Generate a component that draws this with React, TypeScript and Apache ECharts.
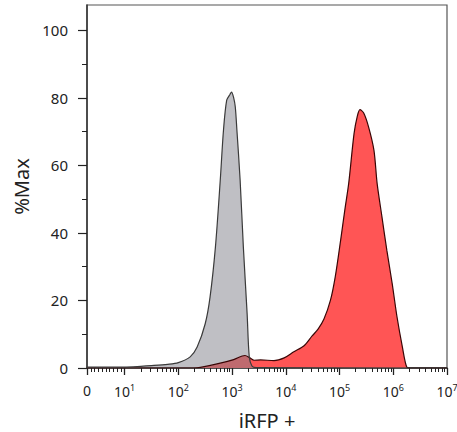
import React, { useEffect, useRef } from "react";
import * as echarts from "echarts";

// x positions are in decade units (log10 of intensity); 0.3 marks the "0" label
const grayX = [0.3, 0.6, 1.0, 1.3, 1.5, 1.8, 2.0, 2.22, 2.35, 2.5, 2.59, 2.69, 2.78, 2.84, 2.9, 2.96, 2.99, 3.03, 3.06, 3.09, 3.15, 3.21, 3.28, 3.32, 3.37, 3.45, 7.0];
const grayY = [0.3, 0.3, 0.3, 0.5, 0.7, 1.1, 1.6, 3.3, 6.2, 13.1, 21, 35.8, 55.6, 70.4, 79.3, 81.0, 81.7, 80.0, 77.3, 70.4, 55.6, 35.8, 16.1, 3.3, 0.6, 0.1, 0];

const redX = [0.3, 2.3, 2.41, 2.72, 3.03, 3.24, 3.33, 3.41, 3.53, 3.78, 3.97, 4.15, 4.34, 4.49, 4.6, 4.71, 4.83, 4.92, 5.02, 5.1, 5.17, 5.27, 5.33, 5.38, 5.45, 5.54, 5.64, 5.7, 5.79, 5.88, 5.98, 6.07, 6.17, 6.25, 6.32, 7.0];
const redY = [0, 0, 0.2, 1.2, 2.5, 3.7, 3.0, 2.3, 2.4, 2.2, 3.0, 4.8, 6.6, 9.5, 11.5, 14.5, 20, 27, 37.8, 47, 54.6, 69.4, 74.5, 76.5, 75.5, 71.4, 64.5, 54.6, 44.7, 34.9, 25, 15.1, 6.2, 0.3, 0, 0];

const majorTicks = [0.3, 1, 2, 3, 4, 5, 6, 7];
const tickLabels = ["0", "10{s|1}", "10{s|2}", "10{s|3}", "10{s|4}", "10{s|5}", "10{s|6}", "10{s|7}"];
const yMajor = [0, 20, 40, 60, 80, 100];
const yMinor = [10, 30, 50, 70, 90];

const yTitle = "%Max";
const xTitle = "iRFP +";

function minorTickValues(): number[] {
  const out: number[] = [];
  for (let v = 1; v <= 9; v++) out.push(0.3 + 0.07 * v);
  for (let k = 1; k < 7; k++) {
    for (let m = 2; m <= 9; m++) out.push(k + Math.log10(m));
  }
  return out;
}

export default function App() {
  const ref = useRef<HTMLDivElement>(null);
  useEffect(() => {
    if (!ref.current) return;
    const chart = echarts.init(ref.current, undefined, { renderer: "svg" });
    const font = "Noto Sans";
    const gray = grayX.map((x, i) => [x, grayY[i]]);
    const red = redX.map((x, i) => [x, redY[i]]);
    chart.setOption({
      animation: false,
      textStyle: { fontFamily: font },
      grid: {
        left: 87,
        right: 10,
        top: 5,
        bottom: 64,
        outerBoundsMode: "none",
        containLabel: false,
        show: true,
        borderColor: "#555",
        borderWidth: 1.2,
        backgroundColor: "transparent",
      },
      xAxis: [
        {
          type: "value",
          min: 0.3,
          max: 7,
          name: xTitle,
          nameLocation: "middle",
          nameGap: 42,
          nameTextStyle: { fontSize: 20, color: "#222", fontFamily: font },
          axisLine: { show: true, onZero: false, lineStyle: { color: "#333", width: 1.5 } },
          axisTick: { show: true, length: 7, customValues: majorTicks, lineStyle: { color: "#222", width: 1.3 } },
          axisLabel: {
            customValues: majorTicks,
            margin: 15,
            color: "#222",
            fontSize: 14,
            fontFamily: font,
            formatter: (v: number) => {
              const i = majorTicks.findIndex((t) => Math.abs(t - v) < 1e-6);
              return i >= 0 ? tickLabels[i] : "";
            },
            rich: {
              s: { fontSize: 9, color: "#222", fontFamily: font, padding: [0, 0, 8, 0] },
            },
          },
          splitLine: { show: false },
        },
        {
          type: "value",
          min: 0.3,
          max: 7,
          position: "bottom",
          axisLine: { show: false },
          axisTick: { show: true, length: 4, customValues: minorTickValues(), lineStyle: { color: "#222", width: 1 } },
          axisLabel: { show: false },
          splitLine: { show: false },
        },
      ],
      yAxis: [
        {
          type: "value",
          min: 0,
          max: 107.5,
          name: yTitle,
          nameLocation: "middle",
          nameGap: 52,
          nameTextStyle: { fontSize: 20, color: "#222", fontFamily: font },
          axisLine: { show: true, lineStyle: { color: "#333", width: 1.5 } },
          axisTick: { show: true, length: 9, customValues: yMajor, lineStyle: { color: "#222", width: 1.2 } },
          axisLabel: { customValues: yMajor, margin: 19, color: "#222", fontSize: 15, fontFamily: font },
          splitLine: { show: false },
        },
        {
          type: "value",
          min: 0,
          max: 107.5,
          position: "left",
          axisLine: { show: false },
          axisTick: { show: true, length: 5, customValues: yMinor, lineStyle: { color: "#222", width: 1 } },
          axisLabel: { show: false },
          splitLine: { show: false },
        },
      ],
      series: [
        {
          type: "line",
          data: red,
          xAxisIndex: 0,
          yAxisIndex: 0,
          symbol: "none",
          smooth: 0.3,
          lineStyle: { color: "#3a0606", width: 1.2 },
          areaStyle: { color: "#ff5555", opacity: 1 },
        },
        {
          type: "line",
          data: gray,
          xAxisIndex: 0,
          yAxisIndex: 0,
          symbol: "none",
          smooth: 0.3,
          lineStyle: { color: "#3a3a3a", width: 1.2 },
          areaStyle: { color: "rgb(128,128,138)", opacity: 0.5 },
        },
      ],
    });
    return () => chart.dispose();
  }, []);
  return <div ref={ref} style={{ position: "absolute", left: 0, top: 0, width: 457, height: 432 }} />;
}
